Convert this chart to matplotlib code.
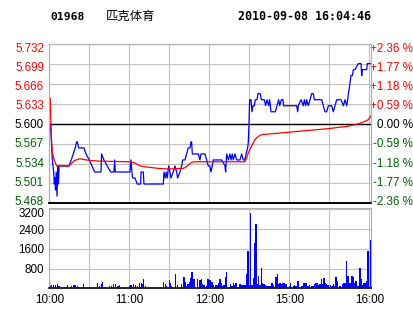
import matplotlib
matplotlib.use("Agg")
import matplotlib.pyplot as plt

# header
code = "01968"
name = "匹克体育"
stamp = "2010-09-08 16:04:46"
prev_close = 5.600

# minutes counted from 10:00 (12:30 and 14:30 share minute 150)
price_t = [0.75, 1.2, 1.9, 2.3, 2.8, 3.3, 3.8, 4.2, 4.7, 5.2, 5.8, 6.4, 6.9, 7.4,
           14.8, 16.5, 18, 19.5, 20.5, 21, 22, 26, 27.5, 30, 32, 34, 38.8, 39.2,
           41, 43.5, 46, 48.5, 49, 49.5, 60.5, 61.25, 62, 62.5, 64.25, 66, 68.5,
           68.8, 70.5, 71, 85.5, 86, 87, 87.75, 88.5, 89.5, 90.5, 91.25, 93,
           94.25, 95.5, 96.25, 98, 99.25, 100, 101.75, 103, 104.25, 105.5, 106.25,
           106.75, 107.25, 111.75, 113, 113.75, 116.75, 118, 119.25, 120.5,
           121.25, 122.25, 123, 129.25, 131.75, 132.25, 133, 134.25, 135.5,
           136.25, 137.25, 138, 139.25, 140.5, 141.75, 143, 144.25, 145.5,
           146.75, 147.5, 148.75, 149.25, 149.75, 150.25, 151.25, 152, 152.75,
           153.75, 154.5, 155.75, 156.5, 158.25, 159, 159.75, 161.25, 162.25,
           163.25, 164.5, 165.25, 166.25, 169.5, 170.75, 172, 172.75, 174,
           175.25, 175.75, 185.5, 186.25, 186.75, 188.75, 190.5, 191.25, 192.25,
           193, 194.25, 195.5, 196.75, 198, 198.75, 204.25, 205.5, 206.75, 208,
           209.25, 211.75, 213, 214.25, 215.5, 218.75, 220.5, 221.75, 223,
           223.75, 224.25, 225, 226.25, 227.25, 228, 229.25, 231.75, 233.75,
           234.25, 234.75, 238, 238.5, 241.25]
price_v = [5.60, 5.59, 5.56, 5.54, 5.53, 5.52, 5.50, 5.51, 5.49, 5.52, 5.48, 5.53, 5.50, 5.53,
           5.53, 5.54, 5.55, 5.56, 5.57, 5.57, 5.56, 5.56, 5.55, 5.54, 5.53, 5.52, 5.52, 5.55,
           5.54, 5.53, 5.52, 5.52, 5.54, 5.52, 5.52, 5.54, 5.52, 5.51, 5.51, 5.50, 5.50,
           5.52, 5.52, 5.50, 5.50, 5.52, 5.51, 5.52, 5.51, 5.53, 5.52, 5.51, 5.52,
           5.53, 5.52, 5.51, 5.52, 5.53, 5.54, 5.54, 5.55, 5.56, 5.56, 5.57,
           5.57, 5.55, 5.55, 5.54, 5.55, 5.55, 5.54, 5.53, 5.53,
           5.52, 5.53, 5.54, 5.54, 5.53, 5.52, 5.55, 5.54, 5.55,
           5.54, 5.55, 5.54, 5.55, 5.54, 5.54, 5.54, 5.55, 5.54,
           5.54, 5.55, 5.56, 5.57, 5.60, 5.64, 5.64, 5.62, 5.63,
           5.63, 5.64, 5.64, 5.65, 5.65, 5.64, 5.64, 5.64, 5.63,
           5.64, 5.63, 5.64, 5.62, 5.62, 5.63, 5.64, 5.63, 5.64,
           5.64, 5.63, 5.63, 5.62, 5.63, 5.64, 5.63, 5.64, 5.63,
           5.64, 5.63, 5.64, 5.65, 5.65, 5.64, 5.64, 5.63, 5.62, 5.62,
           5.63, 5.63, 5.62, 5.63, 5.64, 5.64, 5.63, 5.64, 5.63,
           5.64, 5.65, 5.66, 5.68, 5.68, 5.69, 5.69, 5.70, 5.70,
           5.68, 5.69, 5.69, 5.70, 5.70]

avg_t = [0.75, 1.25, 1.75, 2.25, 3.25, 4.75, 5.75, 14.75, 16.5, 19, 21.5, 22.75,
         27.75, 31.5, 37.75, 60.25, 64.25, 68, 74.25, 81.75, 89.25, 100.5, 103,
         106.75, 109.25, 146.75, 148, 149.25, 151.75, 154.25, 156.75, 159.25,
         169.25, 179.25, 209.25, 224.25, 231.75, 236.75, 239.25, 241.25]
avg_v = [5.642, 5.600, 5.570, 5.554, 5.543, 5.534, 5.530, 5.530, 5.534, 5.539, 5.541, 5.542,
         5.540, 5.539, 5.538, 5.537, 5.535, 5.530, 5.528, 5.526, 5.525, 5.526, 5.529,
         5.536, 5.537, 5.537, 5.543, 5.552, 5.563, 5.574, 5.579, 5.582,
         5.584, 5.586, 5.592, 5.596, 5.600, 5.604, 5.607, 5.613]

vol_t = [1, 2, 3, 5, 6, 7, 8, 14, 17, 18, 19, 20, 21, 26, 36, 38, 39, 40, 45, 47, 48, 50,
         51, 52, 53, 60, 61, 62, 63, 65, 66, 68, 69, 70, 71, 72, 86, 87, 88, 90, 91, 92,
         95, 96, 99, 101, 102, 103, 104, 105, 106, 107, 108, 109, 111, 113, 114, 115,
         116, 118, 119, 120, 121, 122, 123, 125, 126, 127, 128, 129, 130, 131, 132,
         133, 136, 137, 138, 139, 140, 143, 144, 145, 146, 147, 148, 149, 150, 151,
         152, 153, 154, 155, 156, 157, 158, 159, 160, 161, 162, 163, 164, 165, 166,
         167, 168, 170, 171, 172, 173, 174, 175, 176, 177, 178, 180, 181, 183, 184,
         185, 186, 187, 189, 190, 191, 192, 193, 194, 195, 197, 198, 199, 200, 201,
         202, 203, 204, 205, 206, 207, 208, 209, 211, 212, 213, 214, 215, 216, 218,
         220, 221, 222, 223, 224, 225, 226, 227, 228, 229, 230, 231, 232, 233, 234,
         235, 236, 237, 238, 239, 241]
vol_v = [80, 150, 120, 120, 160, 80, 80, 120, 80, 120, 120, 120, 80, 160, 200, 100, 160, 240,
         80, 80, 160, 160, 80, 80, 120, 80, 120, 120, 160, 120, 80, 200, 200, 160, 370, 80,
         240, 160, 80, 325, 200, 80, 570, 120, 160, 450, 240, 80, 160, 240, 400, 650,
         360, 360, 360, 325, 360, 160, 120, 80, 366, 325, 325, 260, 150, 120, 150,
         230, 366, 230, 80, 150, 460, 650, 160, 80, 230, 120, 230, 160, 120, 120,
         120, 120, 570, 1500, 120, 3050, 150, 400, 1830, 2600, 160, 490, 120, 815,
         230, 160, 120, 80, 80, 80, 80, 200, 120, 450, 570, 160, 230, 160, 230, 230,
         160, 160, 80, 230, 80, 120, 80, 310, 285, 80, 80, 230, 230, 230, 80, 120,
         80, 80, 160, 230, 230, 120, 160, 366, 160, 400, 230, 160, 120, 120, 80,
         160, 80, 450, 310, 80, 160, 230, 200, 1100, 490, 200, 230, 500, 460, 230,
         310, 80, 80, 815, 366, 120, 230, 230, 285, 1500, 1960]

price_ticks = [5.468, 5.501, 5.534, 5.567, 5.600, 5.633, 5.666, 5.699, 5.732]
pct_labels = ["-2.36 %", "-1.77 %", "-1.18 %", "-0.59 %", "0.00 %",
              "+0.59 %", "+1.18 %", "+1.77 %", "+2.36 %"]
vol_ticks = [800, 1600, 2400, 3200]
grid_t = [0, 30, 60, 90, 120, 150, 180, 210, 240]
time_labels = ["10:00", "", "11:00", "", "12:00", "", "15:00", "", "16:00"]

RED = "#ff0000"
GREEN = "#006000"
BLUE = "#0000ff"
GRID = "#c0c0c0"

plt.rcParams['font.family'] = ['Liberation Sans', 'DejaVu Sans']

fig = plt.figure(figsize=(4.14, 3.14), dpi=100)
ax = fig.add_axes([0.119, 0.3525, 0.7783, 0.5064])
axv = fig.add_axes([0.119, 0.0818, 0.7783, 0.2542])

# labels sit slightly squeezed inside the panel, like the original widget
lab_pos = [prev_close + (p - prev_close) * 0.965 for p in price_ticks]


def side_color(p):
    if p > prev_close + 1e-9:
        return RED
    if p < prev_close - 1e-9:
        return GREEN
    return "black"


# price panel
ax.plot(price_t, price_v, color=BLUE, lw=0.9, zorder=3)
ax.plot(avg_t, avg_v, color=RED, lw=0.9, zorder=3)
ax.axhline(prev_close, color="black", lw=1, zorder=2)
ax.set_xlim(0, 241.6)
ax.set_ylim(price_ticks[0], price_ticks[-1])
ax.yaxis.remove_overlapping_locs = False
ax.set_xticks(grid_t)
ax.set_xticklabels([])
ax.set_yticks(price_ticks)
ax.set_yticklabels([])
ax.set_yticks(lab_pos, labels=["%.3f" % p for p in price_ticks], minor=True)
ax.grid(True, which="major", color=GRID, lw=0.8)
ax.tick_params(which="both", length=0, labelsize=8.4, pad=3.8)
for lab, p in zip(ax.get_yticklabels(minor=True), price_ticks):
    lab.set_color(side_color(p))

axr = ax.twinx()
axr.set_ylim(ax.get_ylim())
axr.set_yticks(lab_pos)
axr.set_yticklabels(pct_labels, ha="right")
axr.tick_params(length=0, labelsize=8.4, pad=29.9)
for lab, p in zip(axr.get_yticklabels(), price_ticks):
    lab.set_color(side_color(p))

for a in (ax, axr):
    for s in ("top", "left", "right"):
        a.spines[s].set_color("#b0b0b0")
    a.spines["bottom"].set_color("black")
    a.spines["bottom"].set_linewidth(1.2)

# volume panel
axv.bar(vol_t, vol_v, width=0.8, color=BLUE, linewidth=0, antialiased=False, zorder=3)
axv.set_xlim(0, 241.6)
axv.set_ylim(0, 3240)
axv.yaxis.remove_overlapping_locs = False
axv.set_xticks(grid_t)
axv.set_xticklabels(time_labels)
axv.set_yticks(vol_ticks)
axv.set_yticklabels([])
axv.set_yticks([800, 1600, 2400, 3060], labels=[str(v) for v in vol_ticks], minor=True)
axv.grid(True, which="major", color=GRID, lw=0.8)
axv.tick_params(which="both", length=0, labelsize=8.4)
axv.tick_params(axis="y", which="both", pad=3.8)
axv.tick_params(axis="x", pad=4)
for s in ("top", "left", "right"):
    axv.spines[s].set_color("#b0b0b0")
axv.spines["bottom"].set_color("black")
axv.spines["bottom"].set_linewidth(1.2)

# header texts
fig.text(50 / 414, 1 - 16.7 / 314, code, family="DejaVu Sans Mono", weight="bold",
         size=8.2, va="center")
fig.text(106 / 414, 1 - 16.3 / 314, name, family=["Noto Sans CJK SC", "DejaVu Sans"],
         size=8.9, va="center")
fig.text(237.7 / 414, 1 - 16.7 / 314, stamp, family="DejaVu Sans Mono", weight="bold",
         size=8.4, va="center")

fig.savefig("out.png", dpi=100)
